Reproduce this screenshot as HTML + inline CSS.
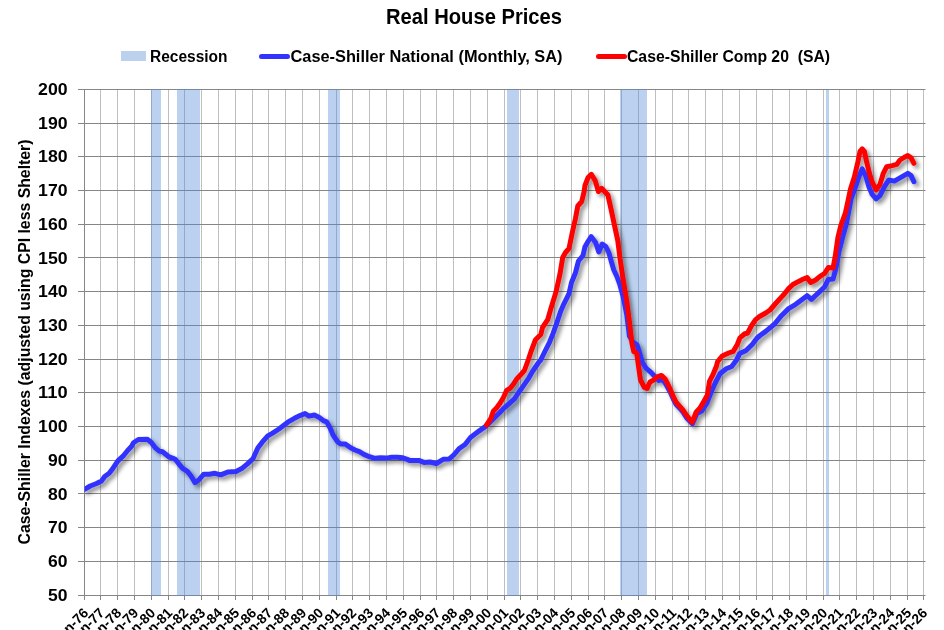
<!DOCTYPE html>
<html><head><meta charset="utf-8">
<style>
html,body{margin:0;padding:0;background:#fff;width:944px;height:630px;overflow:hidden}
svg{display:block;will-change:transform}
text{font-family:"Liberation Sans",sans-serif;font-weight:bold;fill:#000}
.xl text{font-weight:bold}
</style></head><body>
<svg width="944" height="630" viewBox="0 0 944 630">
<defs>
<filter id="sh" x="-10%" y="-10%" width="130%" height="130%">
<feGaussianBlur in="SourceAlpha" stdDeviation="2"/>
<feOffset dx="2.5" dy="3" result="b"/>
<feComponentTransfer in="b" result="c"><feFuncA type="linear" slope="0.45"/></feComponentTransfer>
<feMerge><feMergeNode in="c"/><feMergeNode in="SourceGraphic"/></feMerge>
</filter>
<clipPath id="cp"><rect x="84.5" y="0" width="860" height="630"/></clipPath>
</defs>
<rect width="944" height="630" fill="#fff"/>
<text x="386" y="24" font-size="22" textLength="176" lengthAdjust="spacingAndGlyphs">Real House Prices</text>
<rect x="121" y="51" width="25" height="10" fill="#BCD1EE"/>
<text x="150" y="61.5" font-size="16" textLength="77.5" lengthAdjust="spacingAndGlyphs">Recession</text>
<line x1="261.5" y1="56.4" x2="287.5" y2="56.4" stroke="#3333FF" stroke-width="5" stroke-linecap="round"/>
<text x="290.5" y="61.5" font-size="16" textLength="272" lengthAdjust="spacingAndGlyphs">Case-Shiller National (Monthly, SA)</text>
<line x1="598.5" y1="56.4" x2="624.5" y2="56.4" stroke="#FF0000" stroke-width="5" stroke-linecap="round"/>
<text x="627" y="61.5" font-size="16" textLength="203" lengthAdjust="spacingAndGlyphs" style="white-space:pre">Case-Shiller Comp 20  (SA)</text>
<line x1="100.5" y1="89" x2="100.5" y2="595" stroke="#BFBFBF" stroke-width="1"/>
<line x1="117.5" y1="89" x2="117.5" y2="595" stroke="#BFBFBF" stroke-width="1"/>
<line x1="134.5" y1="89" x2="134.5" y2="595" stroke="#BFBFBF" stroke-width="1"/>
<line x1="151.5" y1="89" x2="151.5" y2="595" stroke="#BFBFBF" stroke-width="1"/>
<line x1="168.5" y1="89" x2="168.5" y2="595" stroke="#BFBFBF" stroke-width="1"/>
<line x1="184.5" y1="89" x2="184.5" y2="595" stroke="#BFBFBF" stroke-width="1"/>
<line x1="201.5" y1="89" x2="201.5" y2="595" stroke="#BFBFBF" stroke-width="1"/>
<line x1="218.5" y1="89" x2="218.5" y2="595" stroke="#BFBFBF" stroke-width="1"/>
<line x1="235.5" y1="89" x2="235.5" y2="595" stroke="#BFBFBF" stroke-width="1"/>
<line x1="252.5" y1="89" x2="252.5" y2="595" stroke="#BFBFBF" stroke-width="1"/>
<line x1="268.5" y1="89" x2="268.5" y2="595" stroke="#BFBFBF" stroke-width="1"/>
<line x1="285.5" y1="89" x2="285.5" y2="595" stroke="#BFBFBF" stroke-width="1"/>
<line x1="302.5" y1="89" x2="302.5" y2="595" stroke="#BFBFBF" stroke-width="1"/>
<line x1="319.5" y1="89" x2="319.5" y2="595" stroke="#BFBFBF" stroke-width="1"/>
<line x1="336.5" y1="89" x2="336.5" y2="595" stroke="#BFBFBF" stroke-width="1"/>
<line x1="352.5" y1="89" x2="352.5" y2="595" stroke="#BFBFBF" stroke-width="1"/>
<line x1="369.5" y1="89" x2="369.5" y2="595" stroke="#BFBFBF" stroke-width="1"/>
<line x1="386.5" y1="89" x2="386.5" y2="595" stroke="#BFBFBF" stroke-width="1"/>
<line x1="403.5" y1="89" x2="403.5" y2="595" stroke="#BFBFBF" stroke-width="1"/>
<line x1="420.5" y1="89" x2="420.5" y2="595" stroke="#BFBFBF" stroke-width="1"/>
<line x1="436.5" y1="89" x2="436.5" y2="595" stroke="#BFBFBF" stroke-width="1"/>
<line x1="453.5" y1="89" x2="453.5" y2="595" stroke="#BFBFBF" stroke-width="1"/>
<line x1="470.5" y1="89" x2="470.5" y2="595" stroke="#BFBFBF" stroke-width="1"/>
<line x1="487.5" y1="89" x2="487.5" y2="595" stroke="#BFBFBF" stroke-width="1"/>
<line x1="504.5" y1="89" x2="504.5" y2="595" stroke="#BFBFBF" stroke-width="1"/>
<line x1="520.5" y1="89" x2="520.5" y2="595" stroke="#BFBFBF" stroke-width="1"/>
<line x1="537.5" y1="89" x2="537.5" y2="595" stroke="#BFBFBF" stroke-width="1"/>
<line x1="554.5" y1="89" x2="554.5" y2="595" stroke="#BFBFBF" stroke-width="1"/>
<line x1="571.5" y1="89" x2="571.5" y2="595" stroke="#BFBFBF" stroke-width="1"/>
<line x1="588.5" y1="89" x2="588.5" y2="595" stroke="#BFBFBF" stroke-width="1"/>
<line x1="604.5" y1="89" x2="604.5" y2="595" stroke="#BFBFBF" stroke-width="1"/>
<line x1="621.5" y1="89" x2="621.5" y2="595" stroke="#BFBFBF" stroke-width="1"/>
<line x1="638.5" y1="89" x2="638.5" y2="595" stroke="#BFBFBF" stroke-width="1"/>
<line x1="655.5" y1="89" x2="655.5" y2="595" stroke="#BFBFBF" stroke-width="1"/>
<line x1="672.5" y1="89" x2="672.5" y2="595" stroke="#BFBFBF" stroke-width="1"/>
<line x1="688.5" y1="89" x2="688.5" y2="595" stroke="#BFBFBF" stroke-width="1"/>
<line x1="705.5" y1="89" x2="705.5" y2="595" stroke="#BFBFBF" stroke-width="1"/>
<line x1="722.5" y1="89" x2="722.5" y2="595" stroke="#BFBFBF" stroke-width="1"/>
<line x1="739.5" y1="89" x2="739.5" y2="595" stroke="#BFBFBF" stroke-width="1"/>
<line x1="756.5" y1="89" x2="756.5" y2="595" stroke="#BFBFBF" stroke-width="1"/>
<line x1="772.5" y1="89" x2="772.5" y2="595" stroke="#BFBFBF" stroke-width="1"/>
<line x1="789.5" y1="89" x2="789.5" y2="595" stroke="#BFBFBF" stroke-width="1"/>
<line x1="806.5" y1="89" x2="806.5" y2="595" stroke="#BFBFBF" stroke-width="1"/>
<line x1="823.5" y1="89" x2="823.5" y2="595" stroke="#BFBFBF" stroke-width="1"/>
<line x1="839.5" y1="89" x2="839.5" y2="595" stroke="#BFBFBF" stroke-width="1"/>
<line x1="856.5" y1="89" x2="856.5" y2="595" stroke="#BFBFBF" stroke-width="1"/>
<line x1="873.5" y1="89" x2="873.5" y2="595" stroke="#BFBFBF" stroke-width="1"/>
<line x1="890.5" y1="89" x2="890.5" y2="595" stroke="#BFBFBF" stroke-width="1"/>
<line x1="907.5" y1="89" x2="907.5" y2="595" stroke="#BFBFBF" stroke-width="1"/>
<line x1="923.5" y1="89" x2="923.5" y2="595" stroke="#BFBFBF" stroke-width="1"/>
<line x1="78" y1="89.5" x2="925.5" y2="89.5" stroke="#868686" stroke-width="1"/>
<line x1="78" y1="123.5" x2="925.5" y2="123.5" stroke="#868686" stroke-width="1"/>
<line x1="78" y1="156.5" x2="925.5" y2="156.5" stroke="#868686" stroke-width="1"/>
<line x1="78" y1="190.5" x2="925.5" y2="190.5" stroke="#868686" stroke-width="1"/>
<line x1="78" y1="224.5" x2="925.5" y2="224.5" stroke="#868686" stroke-width="1"/>
<line x1="78" y1="257.5" x2="925.5" y2="257.5" stroke="#868686" stroke-width="1"/>
<line x1="78" y1="291.5" x2="925.5" y2="291.5" stroke="#868686" stroke-width="1"/>
<line x1="78" y1="325.5" x2="925.5" y2="325.5" stroke="#868686" stroke-width="1"/>
<line x1="78" y1="359.5" x2="925.5" y2="359.5" stroke="#868686" stroke-width="1"/>
<line x1="78" y1="392.5" x2="925.5" y2="392.5" stroke="#868686" stroke-width="1"/>
<line x1="78" y1="426.5" x2="925.5" y2="426.5" stroke="#868686" stroke-width="1"/>
<line x1="78" y1="460.5" x2="925.5" y2="460.5" stroke="#868686" stroke-width="1"/>
<line x1="78" y1="493.5" x2="925.5" y2="493.5" stroke="#868686" stroke-width="1"/>
<line x1="78" y1="527.5" x2="925.5" y2="527.5" stroke="#868686" stroke-width="1"/>
<line x1="78" y1="561.5" x2="925.5" y2="561.5" stroke="#868686" stroke-width="1"/>
<line x1="78" y1="595.5" x2="925.5" y2="595.5" stroke="#868686" stroke-width="1"/>
<line x1="84.5" y1="89" x2="84.5" y2="600" stroke="#868686" stroke-width="1"/>
<line x1="100.5" y1="595" x2="100.5" y2="600" stroke="#868686" stroke-width="1"/>
<line x1="117.5" y1="595" x2="117.5" y2="600" stroke="#868686" stroke-width="1"/>
<line x1="134.5" y1="595" x2="134.5" y2="600" stroke="#868686" stroke-width="1"/>
<line x1="151.5" y1="595" x2="151.5" y2="600" stroke="#868686" stroke-width="1"/>
<line x1="168.5" y1="595" x2="168.5" y2="600" stroke="#868686" stroke-width="1"/>
<line x1="184.5" y1="595" x2="184.5" y2="600" stroke="#868686" stroke-width="1"/>
<line x1="201.5" y1="595" x2="201.5" y2="600" stroke="#868686" stroke-width="1"/>
<line x1="218.5" y1="595" x2="218.5" y2="600" stroke="#868686" stroke-width="1"/>
<line x1="235.5" y1="595" x2="235.5" y2="600" stroke="#868686" stroke-width="1"/>
<line x1="252.5" y1="595" x2="252.5" y2="600" stroke="#868686" stroke-width="1"/>
<line x1="268.5" y1="595" x2="268.5" y2="600" stroke="#868686" stroke-width="1"/>
<line x1="285.5" y1="595" x2="285.5" y2="600" stroke="#868686" stroke-width="1"/>
<line x1="302.5" y1="595" x2="302.5" y2="600" stroke="#868686" stroke-width="1"/>
<line x1="319.5" y1="595" x2="319.5" y2="600" stroke="#868686" stroke-width="1"/>
<line x1="336.5" y1="595" x2="336.5" y2="600" stroke="#868686" stroke-width="1"/>
<line x1="352.5" y1="595" x2="352.5" y2="600" stroke="#868686" stroke-width="1"/>
<line x1="369.5" y1="595" x2="369.5" y2="600" stroke="#868686" stroke-width="1"/>
<line x1="386.5" y1="595" x2="386.5" y2="600" stroke="#868686" stroke-width="1"/>
<line x1="403.5" y1="595" x2="403.5" y2="600" stroke="#868686" stroke-width="1"/>
<line x1="420.5" y1="595" x2="420.5" y2="600" stroke="#868686" stroke-width="1"/>
<line x1="436.5" y1="595" x2="436.5" y2="600" stroke="#868686" stroke-width="1"/>
<line x1="453.5" y1="595" x2="453.5" y2="600" stroke="#868686" stroke-width="1"/>
<line x1="470.5" y1="595" x2="470.5" y2="600" stroke="#868686" stroke-width="1"/>
<line x1="487.5" y1="595" x2="487.5" y2="600" stroke="#868686" stroke-width="1"/>
<line x1="504.5" y1="595" x2="504.5" y2="600" stroke="#868686" stroke-width="1"/>
<line x1="520.5" y1="595" x2="520.5" y2="600" stroke="#868686" stroke-width="1"/>
<line x1="537.5" y1="595" x2="537.5" y2="600" stroke="#868686" stroke-width="1"/>
<line x1="554.5" y1="595" x2="554.5" y2="600" stroke="#868686" stroke-width="1"/>
<line x1="571.5" y1="595" x2="571.5" y2="600" stroke="#868686" stroke-width="1"/>
<line x1="588.5" y1="595" x2="588.5" y2="600" stroke="#868686" stroke-width="1"/>
<line x1="604.5" y1="595" x2="604.5" y2="600" stroke="#868686" stroke-width="1"/>
<line x1="621.5" y1="595" x2="621.5" y2="600" stroke="#868686" stroke-width="1"/>
<line x1="638.5" y1="595" x2="638.5" y2="600" stroke="#868686" stroke-width="1"/>
<line x1="655.5" y1="595" x2="655.5" y2="600" stroke="#868686" stroke-width="1"/>
<line x1="672.5" y1="595" x2="672.5" y2="600" stroke="#868686" stroke-width="1"/>
<line x1="688.5" y1="595" x2="688.5" y2="600" stroke="#868686" stroke-width="1"/>
<line x1="705.5" y1="595" x2="705.5" y2="600" stroke="#868686" stroke-width="1"/>
<line x1="722.5" y1="595" x2="722.5" y2="600" stroke="#868686" stroke-width="1"/>
<line x1="739.5" y1="595" x2="739.5" y2="600" stroke="#868686" stroke-width="1"/>
<line x1="756.5" y1="595" x2="756.5" y2="600" stroke="#868686" stroke-width="1"/>
<line x1="772.5" y1="595" x2="772.5" y2="600" stroke="#868686" stroke-width="1"/>
<line x1="789.5" y1="595" x2="789.5" y2="600" stroke="#868686" stroke-width="1"/>
<line x1="806.5" y1="595" x2="806.5" y2="600" stroke="#868686" stroke-width="1"/>
<line x1="823.5" y1="595" x2="823.5" y2="600" stroke="#868686" stroke-width="1"/>
<line x1="839.5" y1="595" x2="839.5" y2="600" stroke="#868686" stroke-width="1"/>
<line x1="856.5" y1="595" x2="856.5" y2="600" stroke="#868686" stroke-width="1"/>
<line x1="873.5" y1="595" x2="873.5" y2="600" stroke="#868686" stroke-width="1"/>
<line x1="890.5" y1="595" x2="890.5" y2="600" stroke="#868686" stroke-width="1"/>
<line x1="907.5" y1="595" x2="907.5" y2="600" stroke="#868686" stroke-width="1"/>
<line x1="923.5" y1="595" x2="923.5" y2="600" stroke="#868686" stroke-width="1"/>
<rect x="151" y="89" width="10" height="507" fill="rgb(88,140,214)" fill-opacity="0.40"/>
<rect x="177" y="89" width="23" height="507" fill="rgb(88,140,214)" fill-opacity="0.40"/>
<rect x="328" y="89" width="12" height="507" fill="rgb(88,140,214)" fill-opacity="0.40"/>
<rect x="507" y="89" width="12" height="507" fill="rgb(88,140,214)" fill-opacity="0.40"/>
<rect x="620" y="89" width="27" height="507" fill="rgb(88,140,214)" fill-opacity="0.40"/>
<rect x="826" y="89" width="3" height="507" fill="rgb(88,140,214)" fill-opacity="0.40"/>
<g font-size="16.2">
<text x="67.6" y="95.0" text-anchor="end" textLength="29.5" lengthAdjust="spacingAndGlyphs">200</text>
<text x="67.6" y="129.0" text-anchor="end" textLength="29.5" lengthAdjust="spacingAndGlyphs">190</text>
<text x="67.6" y="162.0" text-anchor="end" textLength="29.5" lengthAdjust="spacingAndGlyphs">180</text>
<text x="67.6" y="196.0" text-anchor="end" textLength="29.5" lengthAdjust="spacingAndGlyphs">170</text>
<text x="67.6" y="230.0" text-anchor="end" textLength="29.5" lengthAdjust="spacingAndGlyphs">160</text>
<text x="67.6" y="264.0" text-anchor="end" textLength="29.5" lengthAdjust="spacingAndGlyphs">150</text>
<text x="67.6" y="297.0" text-anchor="end" textLength="29.5" lengthAdjust="spacingAndGlyphs">140</text>
<text x="67.6" y="331.0" text-anchor="end" textLength="29.5" lengthAdjust="spacingAndGlyphs">130</text>
<text x="67.6" y="365.0" text-anchor="end" textLength="29.5" lengthAdjust="spacingAndGlyphs">120</text>
<text x="67.6" y="398.0" text-anchor="end" textLength="29.5" lengthAdjust="spacingAndGlyphs">110</text>
<text x="67.6" y="432.0" text-anchor="end" textLength="29.5" lengthAdjust="spacingAndGlyphs">100</text>
<text x="67.4" y="466.0" text-anchor="end" textLength="19.5" lengthAdjust="spacingAndGlyphs">90</text>
<text x="67.4" y="500.0" text-anchor="end" textLength="19.5" lengthAdjust="spacingAndGlyphs">80</text>
<text x="67.4" y="533.0" text-anchor="end" textLength="19.5" lengthAdjust="spacingAndGlyphs">70</text>
<text x="67.4" y="567.0" text-anchor="end" textLength="19.5" lengthAdjust="spacingAndGlyphs">60</text>
<text x="67.4" y="601.0" text-anchor="end" textLength="19.5" lengthAdjust="spacingAndGlyphs">50</text>
</g>
<text transform="translate(29.5,544.5) rotate(-90)" font-size="16.5" textLength="405" lengthAdjust="spacingAndGlyphs">Case-Shiller Indexes (adjusted using CPI less Shelter)</text>
<g font-size="13.9" class="xl">
<text transform="translate(89.1,613.7) rotate(-45)" text-anchor="end">Jan-76</text>
<text transform="translate(105.1,613.7) rotate(-45)" text-anchor="end">Jan-77</text>
<text transform="translate(122.1,613.7) rotate(-45)" text-anchor="end">Jan-78</text>
<text transform="translate(139.1,613.7) rotate(-45)" text-anchor="end">Jan-79</text>
<text transform="translate(156.1,613.7) rotate(-45)" text-anchor="end">Jan-80</text>
<text transform="translate(173.1,613.7) rotate(-45)" text-anchor="end">Jan-81</text>
<text transform="translate(189.1,613.7) rotate(-45)" text-anchor="end">Jan-82</text>
<text transform="translate(206.1,613.7) rotate(-45)" text-anchor="end">Jan-83</text>
<text transform="translate(223.1,613.7) rotate(-45)" text-anchor="end">Jan-84</text>
<text transform="translate(240.1,613.7) rotate(-45)" text-anchor="end">Jan-85</text>
<text transform="translate(257.1,613.7) rotate(-45)" text-anchor="end">Jan-86</text>
<text transform="translate(273.1,613.7) rotate(-45)" text-anchor="end">Jan-87</text>
<text transform="translate(290.1,613.7) rotate(-45)" text-anchor="end">Jan-88</text>
<text transform="translate(307.1,613.7) rotate(-45)" text-anchor="end">Jan-89</text>
<text transform="translate(324.1,613.7) rotate(-45)" text-anchor="end">Jan-90</text>
<text transform="translate(341.1,613.7) rotate(-45)" text-anchor="end">Jan-91</text>
<text transform="translate(357.1,613.7) rotate(-45)" text-anchor="end">Jan-92</text>
<text transform="translate(374.1,613.7) rotate(-45)" text-anchor="end">Jan-93</text>
<text transform="translate(391.1,613.7) rotate(-45)" text-anchor="end">Jan-94</text>
<text transform="translate(408.1,613.7) rotate(-45)" text-anchor="end">Jan-95</text>
<text transform="translate(425.1,613.7) rotate(-45)" text-anchor="end">Jan-96</text>
<text transform="translate(441.1,613.7) rotate(-45)" text-anchor="end">Jan-97</text>
<text transform="translate(458.1,613.7) rotate(-45)" text-anchor="end">Jan-98</text>
<text transform="translate(475.1,613.7) rotate(-45)" text-anchor="end">Jan-99</text>
<text transform="translate(492.1,613.7) rotate(-45)" text-anchor="end">Jan-00</text>
<text transform="translate(509.1,613.7) rotate(-45)" text-anchor="end">Jan-01</text>
<text transform="translate(525.1,613.7) rotate(-45)" text-anchor="end">Jan-02</text>
<text transform="translate(542.1,613.7) rotate(-45)" text-anchor="end">Jan-03</text>
<text transform="translate(559.1,613.7) rotate(-45)" text-anchor="end">Jan-04</text>
<text transform="translate(576.1,613.7) rotate(-45)" text-anchor="end">Jan-05</text>
<text transform="translate(593.1,613.7) rotate(-45)" text-anchor="end">Jan-06</text>
<text transform="translate(609.1,613.7) rotate(-45)" text-anchor="end">Jan-07</text>
<text transform="translate(626.1,613.7) rotate(-45)" text-anchor="end">Jan-08</text>
<text transform="translate(643.1,613.7) rotate(-45)" text-anchor="end">Jan-09</text>
<text transform="translate(660.1,613.7) rotate(-45)" text-anchor="end">Jan-10</text>
<text transform="translate(677.1,613.7) rotate(-45)" text-anchor="end">Jan-11</text>
<text transform="translate(693.1,613.7) rotate(-45)" text-anchor="end">Jan-12</text>
<text transform="translate(710.1,613.7) rotate(-45)" text-anchor="end">Jan-13</text>
<text transform="translate(727.1,613.7) rotate(-45)" text-anchor="end">Jan-14</text>
<text transform="translate(744.1,613.7) rotate(-45)" text-anchor="end">Jan-15</text>
<text transform="translate(761.1,613.7) rotate(-45)" text-anchor="end">Jan-16</text>
<text transform="translate(777.1,613.7) rotate(-45)" text-anchor="end">Jan-17</text>
<text transform="translate(794.1,613.7) rotate(-45)" text-anchor="end">Jan-18</text>
<text transform="translate(811.1,613.7) rotate(-45)" text-anchor="end">Jan-19</text>
<text transform="translate(828.1,613.7) rotate(-45)" text-anchor="end">Jan-20</text>
<text transform="translate(844.1,613.7) rotate(-45)" text-anchor="end">Jan-21</text>
<text transform="translate(861.1,613.7) rotate(-45)" text-anchor="end">Jan-22</text>
<text transform="translate(878.1,613.7) rotate(-45)" text-anchor="end">Jan-23</text>
<text transform="translate(895.1,613.7) rotate(-45)" text-anchor="end">Jan-24</text>
<text transform="translate(912.1,613.7) rotate(-45)" text-anchor="end">Jan-25</text>
<text transform="translate(928.1,613.7) rotate(-45)" text-anchor="end">Jan-26</text>
</g>
<g clip-path="url(#cp)"><g filter="url(#sh)" fill="none" stroke-width="5" stroke-linejoin="round" stroke-linecap="round">
<polyline points="84.6,489.4 90.2,486 96.5,483.5 101.6,480.9 104.7,476.5 109.2,473.3 113,468.2 118.1,460.6 123.8,455.3 127.6,450.5 131.4,446.6 133.5,442.8 138.4,439.5 147.3,439.2 151.1,442.2 154.9,447.3 159.3,451.1 162.5,451.8 168.8,456.8 173.9,458.7 175.5,459.5 178.8,463.8 182.6,468.4 187.4,471.4 191.2,476.2 195,482.6 198.8,480 203.6,474.3 209.3,474.3 215,473.3 220.7,474.8 228.3,471.9 236,471.4 241.7,468.6 247.4,463.8 253.1,458.6 254.4,455.6 257.8,448 262.2,442.2 267.8,435.8 272.2,433.3 278.9,429 287.8,422.2 294.4,418.3 300,415.6 305,413.5 308.9,416.1 314.4,415 318.9,417.2 323.3,420.6 326.7,421.9 330,427.8 333.3,435.4 337.8,442 340.6,443.9 345,443.9 350.6,447.8 355,450 359.4,451.7 363.9,454.4 369.4,456.7 375,458.3 380.6,457.8 386.1,458.1 391.7,457.2 397.2,457.2 402.8,457.8 407.2,459.4 410,460.6 418.7,460.4 424,462.4 430.1,462 436.2,463.5 443.2,459.3 449.3,458.9 453.7,455 458.9,448.8 465,444.5 470.5,437.5 478.9,431.1 486.7,425.6 494.4,417.8 500,412.2 504.4,407.8 510,402.8 514.4,398.9 518.9,392.2 524.4,384.4 528.9,377.8 532.5,371.5 538.6,362.5 540.8,359.8 545.1,351 549.5,342.3 553,333.6 557.3,321.4 560.8,310.9 563.9,303.8 569,293.6 571.5,282.5 575.3,273.3 578.5,261 583,255.5 584.9,247 588,241.5 591.2,236.6 595.7,242.8 598.8,252 602.2,244 605.8,246.5 608.8,252.5 611.9,263.5 613.8,270 616.9,276.5 619.8,284.5 623,296 626.8,315 629.4,336 632.5,341.5 637.1,345 639.5,352.4 642.4,362.5 646.2,368.3 651,372.4 656.7,378.5 659,380.5 662,379.5 665,382.5 668,388 670.5,392.5 673.3,399 676.2,404.5 680,408.5 682.9,412 686.7,418 692.4,423.8 697,413.5 701.9,410.8 706.7,403.5 711.4,391.5 715.2,383 720,373.8 726.2,368.8 731.7,366.5 736.5,360 739.8,353.5 746,350.5 752.4,344.3 757.1,338 760,335.5 765.7,331.4 774.3,324.3 781.4,315.7 788.6,308.6 795.7,304.3 801.4,300 807.1,295.7 811.4,299.3 820,291.4 824.5,287 828.3,279.5 833.1,279 836,268 838.8,252.5 842.6,237.3 846.4,223.8 851.1,199 855.6,186.7 858.9,176.7 862.2,168.9 865.6,175.6 868.9,186.7 872.2,194.4 876.1,198.9 880,195.6 884.4,186.7 888.9,180 894.4,181.1 900,177.8 907.8,173.3 911.1,175.6 913.9,181.7" stroke="#3333FF"/>
<polyline points="486.6,425 490.6,419 493.3,411.3 496.7,407.8 500,403.3 503.3,397.8 506.7,390.3 510,388.3 513.3,384.4 516.7,379 520,375.6 524.4,370.5 528.4,359.5 531.2,351 535.5,339.7 540.8,334.5 542.5,327.5 547.7,319.7 551.2,307.4 556,292 560,273.9 562.7,257.5 565.5,252.5 569,248.5 572.2,233 575.4,218.7 577.8,206 581.7,201.5 584.1,191.7 585,185.4 588.1,177.5 591.3,174.3 595.2,180.6 598.4,191.5 601.6,188.3 607.9,195 611.1,209.4 614.4,225 617.8,240.6 620,258.3 623.3,280.6 626.7,300.6 629.8,324.9 631.9,342.9 633.8,351.8 636.7,353 638.6,366.7 640.5,380 644.3,387.4 647.1,388.4 650,382 653.8,380 656.7,377.1 661.4,375.4 665.2,379 668.1,384.8 670.3,389.5 673.3,396.7 676.2,402.4 680,406.7 682.9,410 686.7,415.7 692.2,422.4 696.2,412 700,408.1 703.8,401.4 707.4,395 709.5,381.4 713.3,373.8 716.5,366 717.5,361.8 722.2,356 728.6,353 733.3,351.3 737.3,344.5 739.9,337.8 744.4,334 747.6,333 751.6,325.5 755.6,319.6 759.5,316.5 765.7,313 770,310 774.3,305 780,298.6 784.3,294 788.6,288.6 792.9,284.5 798.6,281.4 802.9,279.3 807.1,277.5 810.7,282.5 815.7,280 820,276.4 824.5,273.5 828.3,267.6 833.1,268 835.2,256.5 837.9,237.5 840.7,226 845.5,212.5 848.3,199.5 850.5,189 854.4,176.7 857.8,162.2 860,151.5 862.2,149 864.4,151.5 866.7,162.2 869.4,173.3 872.2,182.2 876.1,190 880,184.4 883.3,173.3 886.7,166.7 892.2,165.6 896.7,164.4 900,160 904,157.5 907.8,155.6 911.1,157.8 913.9,163.3" stroke="#FF0000"/>
</g></g>
</svg>
</body></html>
